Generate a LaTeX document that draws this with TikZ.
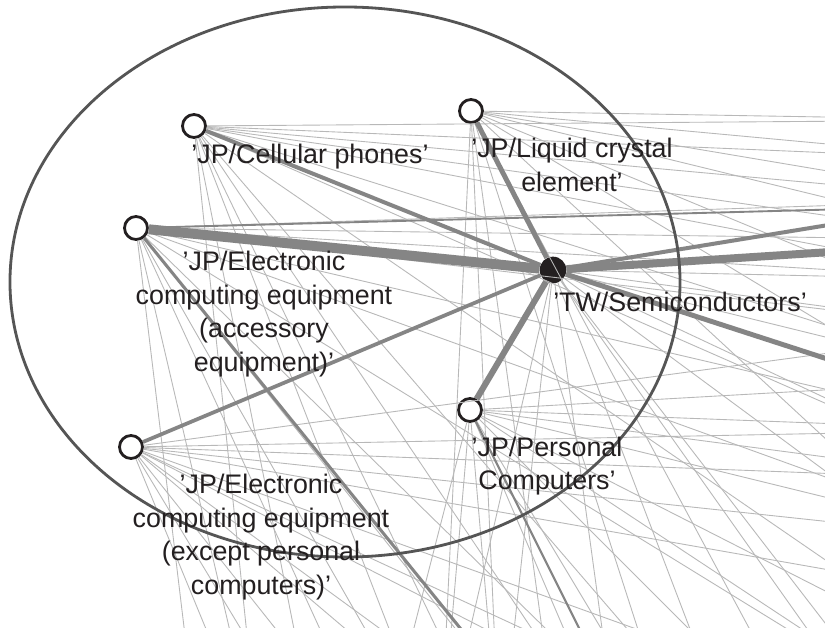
\documentclass[tikz,border=0pt]{standalone}
\usepackage{fontspec}
\setmainfont{Liberation Sans}
\definecolor{inkDark}{HTML}{231F20}
\definecolor{ringGray}{HTML}{555555}
\definecolor{heavyGray}{HTML}{858585}
\definecolor{midGray}{HTML}{9C9C9C}
\definecolor{lightGray}{HTML}{B8B8B8}
\begin{document}
\begin{tikzpicture}
[x=0.03cm,y=-0.03cm,
  thinDecorate/.style={-,line width=0.75pt,color=lightGray},%
  heavyDecorate/.style={-,color=heavyGray},%
  ringDecorate/.style={line width=2.4pt,color=ringGray},%
  nodeDecorate/.style={shape=circle,inner sep=0pt,minimum size=0.69cm,draw=inkDark,fill=white,line width=2.4pt},%
  hubDecorate/.style={shape=circle,inner sep=0pt,minimum size=0.8cm,fill=inkDark},%
  labelDecorate/.style={align=center,text=inkDark,inner sep=0pt,font=\fontsize{22.9}{28.7}\selectfont}]
\useasboundingbox[fill=white] (0,0) rectangle (825,628);
\clip (0,0) rectangle (825,628);
%% nodes or vertices
\foreach \nodename/\x/\y in {
  cell/194/126, liq/471/111, acc/136/228, pc/470/410, exc/131/447}
{
  \node (\nodename) at (\x,\y) [nodeDecorate] {};
}
\node (tw) at (553,270) [hubDecorate] {};
%% free ends outside the frame
\foreach \nodename/\x/\y in {
  r1/1000/120, r2/1000/160, r3/1000/200, r4/1000/240, r5/1000/280,
  r6/1000/330, r7/1000/380, r8/1000/430, r9/1000/480, r10/1000/540,
  r11/1000/600, r12/1000/680, r13/1000/760, r14/1000/850,
  b1/200/760, b2/260/760, b3/320/760, b4/380/760, b5/440/760,
  b6/500/760, b7/560/760, b8/620/760, b9/680/760, b10/740/760,
  b11/820/760, b12/900/760,
  t1/1000/197, t2/1000/241, t3/1000/415, t4/567/760, t5/645/760, t6/1000/205}
{
  \coordinate (\nodename) at (\x,\y);
}
%% light edges
\path
\foreach \startnode/\endnode in {
  cell/r1, cell/r2, cell/r3, cell/r4, cell/r5, cell/r7, cell/r9, cell/r12,
  cell/b2, cell/b3, cell/b5, cell/b6, cell/b8, cell/b10,
  liq/r1, liq/r2, liq/r3, liq/r4, liq/r6, liq/r8, liq/r11,
  liq/b5, liq/b6, liq/b7, liq/b9, liq/b11,
  acc/r3, acc/r4, acc/r5, acc/r6, acc/r8, acc/r10, acc/r13,
  acc/b1, acc/b2, acc/b4, acc/b5, acc/b7, acc/b9,
  tw/r5, tw/r6, tw/r7, tw/r9, tw/r11, tw/r14,
  tw/b5, tw/b6, tw/b8, tw/b10, tw/b12,
  pc/r7, pc/r8, pc/r9, pc/r10, pc/r12, pc/r13,
  pc/b4, pc/b5, pc/b6, pc/b8, pc/b9, pc/b11,
  exc/r6, exc/r8, exc/r9, exc/r10, exc/r11, exc/r13, exc/r14,
  exc/b2, exc/b3, exc/b4, exc/b6, exc/b7, exc/b10}
{
  (\startnode) edge[thinDecorate] (\endnode)
};
%% weighted edges
\path
\foreach \startnode/\endnode/\w in {
  acc/t6/1.6, pc/t5/1.8, acc/t4/2.6, exc/tw/3.2, cell/tw/3.4,
  tw/t1/3.4, liq/tw/4.2, tw/t3/4.2, pc/tw/5.2, tw/t2/6.8, acc/tw/8.5}
{
  (\startnode) edge[heavyDecorate,line width=\w pt] (\endnode)
};
%% cluster ring
\draw[ringDecorate] (345,282) ellipse [x radius=10.05cm, y radius=8.25cm];
%% labels
\node (cellLabel) at (310,157) [labelDecorate] {'JP/Cellular phones'};
\node (liqLabel) at (572,165) [labelDecorate] {'JP/Liquid crystal\\element'};
\node (accLabel) at (264,314) [labelDecorate] {'JP/Electronic\\computing equipment\\(accessory\\equipment)'};
\node (twLabel) at (680,302) [labelDecorate] {'TW/Semiconductors'};
\node (pcLabel) at (547,466) [labelDecorate] {'JP/Personal\\Computers'};
\node (excLabel) at (261,537) [labelDecorate] {'JP/Electronic\\computing equipment\\(except personal\\computers)'};
\end{tikzpicture}
\end{document}
